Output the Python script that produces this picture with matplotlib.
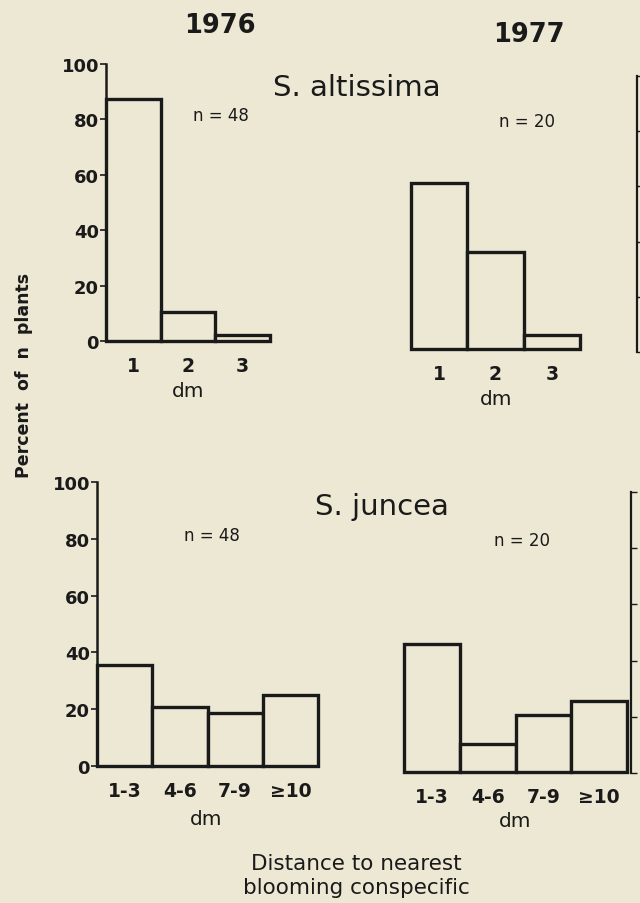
import matplotlib
matplotlib.use("Agg")
import matplotlib.pyplot as plt

plt.rcParams['font.family'] = ['DejaVu Sans']

# ---- data (percent of n plants) ----
alt_cats = ["1", "2", "3"]
alt_1976 = [87.5, 10.4, 2.1]
alt_1977 = [60.0, 35.0, 5.0]
jun_cats = ["1-3", "4-6", "7-9", "\u226510"]
jun_1976 = [35.4, 20.8, 18.8, 25.0]
jun_1977 = [45.0, 10.0, 20.0, 25.0]
y_ticks = [0, 20, 40, 60, 80, 100]

BG = "#ECE8D4"
EDGE = "#1a1a1a"
W, H = 640, 904

fig = plt.figure(figsize=(W / 100, H / 100), dpi=100)
fig.patch.set_facecolor(BG)


def ax_px(x0, x1, ytop, ybot):
    return fig.add_axes([x0 / W, 1 - ybot / H, (x1 - x0) / W, (ybot - ytop) / H])


def panel(x0, x1, ytop, ybot, cats, vals, with_axis):
    ax = ax_px(x0, x1, ytop, ybot)
    ax.set_facecolor("none")
    pos = list(range(1, len(cats) + 1))
    ax.bar(pos, vals, width=1.0, facecolor=BG, edgecolor=EDGE,
           linewidth=2.4, clip_on=False)
    ax.set_xlim(0.5, len(cats) + 0.5)
    ax.set_ylim(0, 100)
    for s in ["top", "right", "bottom"]:
        ax.spines[s].set_visible(False)
    ax.set_xticks(pos)
    ax.set_xticklabels(cats, fontsize=13.5, fontweight="bold", color=EDGE)
    ax.tick_params(axis="x", length=0, pad=11)
    if with_axis:
        ax.spines["left"].set_linewidth(1.8)
        ax.spines["left"].set_color(EDGE)
        ax.set_yticks(y_ticks)
        ax.set_yticklabels([str(t) for t in y_ticks], fontsize=13,
                           fontweight="bold", color=EDGE)
        ax.tick_params(axis="y", length=4, width=1.2, pad=1, color=EDGE)
    else:
        ax.spines["left"].set_visible(False)
        ax.set_yticks([])
    return ax


def partial_axis(x0, ytop, ybot):
    ax = ax_px(x0, x0 + 80, ytop, ybot)
    ax.set_facecolor("none")
    ax.set_xlim(0, 1)
    ax.set_ylim(0, 100)
    for s in ["top", "right", "bottom"]:
        ax.spines[s].set_visible(False)
    ax.spines["left"].set_linewidth(1.6)
    ax.spines["left"].set_color(EDGE)
    ax.set_xticks([])
    ax.set_yticks(y_ticks)
    ax.set_yticklabels([])
    ax.tick_params(axis="y", direction="in", length=4, width=1.0, color=EDGE)
    return ax


# top row: S. altissima
panel(106, 270, 65, 342, alt_cats, alt_1976, True)
panel(411, 580, 73, 350, alt_cats, alt_1977, False)
partial_axis(637, 77, 353)

# bottom row: S. juncea
panel(97, 318, 483, 767, jun_cats, jun_1976, True)
panel(404, 627, 489, 773, jun_cats, jun_1977, False)
partial_axis(631, 493, 774)


def ftext(x, y, s, **kw):
    fig.text(x / W, 1 - y / H, s, ha="center", va="center", color=EDGE, **kw)


ftext(220, 26, "1976", fontsize=18.5, fontweight="bold")
ftext(529, 35, "1977", fontsize=18.5, fontweight="bold")
ftext(357, 88, "S. altissima", fontsize=21)
ftext(382, 507, "S. juncea", fontsize=21)
ftext(221, 116, "n = 48", fontsize=12)
ftext(527, 122, "n = 20", fontsize=12)
ftext(212, 536, "n = 48", fontsize=12)
ftext(522, 541, "n = 20", fontsize=12)
ftext(188, 392, "dm", fontsize=14.5)
ftext(496, 400, "dm", fontsize=14.5)
ftext(206, 820, "dm", fontsize=14.5)
ftext(515, 822, "dm", fontsize=14.5)
ftext(24, 375, "Percent  of  n  plants", fontsize=12.5, fontweight="bold",
      rotation=90)
ftext(356, 864, "Distance to nearest", fontsize=15.5)
ftext(356, 888, "blooming conspecific", fontsize=15.5)

fig.savefig("out.png", dpi=100, facecolor=BG)
